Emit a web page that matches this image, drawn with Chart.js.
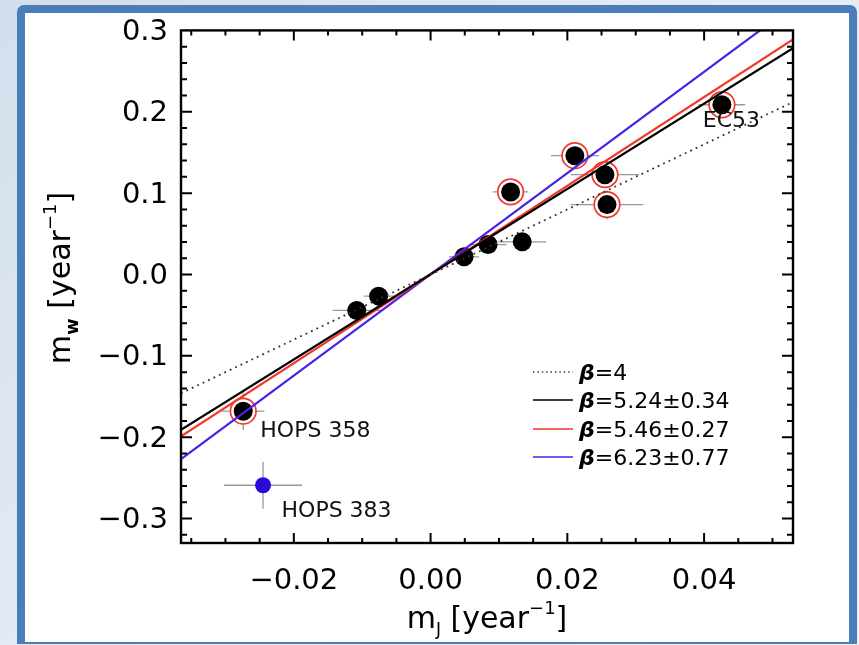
<!DOCTYPE html>
<html><head><meta charset="utf-8">
<script src="https://cdn.jsdelivr.net/npm/chart.js@4/dist/chart.umd.min.js"></script>
<style>
html,body{margin:0;padding:0;width:859px;height:645px;overflow:hidden;
  background:linear-gradient(135deg,#d3deec 0%,#e3eaf4 45%,#eef2f8 100%);}
#frame{position:absolute;left:17px;top:5px;width:824px;height:629px;
  border:8px solid #4a7ebb;border-bottom-width:2px;border-radius:7px 7px 0 0;background:#fff;}
#c{position:absolute;left:0;top:0;}
</style></head>
<body>
<div id="frame"></div>
<canvas id="c" width="859" height="645"></canvas>
<script>
// ---- data ----
const blackX    = [-0.0274, -0.0108, -0.0076, 0.0049, 0.0084, 0.0134, 0.0117, 0.0211, 0.0255, 0.0258, 0.0426];
const blackY    = [-0.168, -0.0442, -0.0266, 0.0217, 0.0368, 0.0401, 0.1015, 0.146, 0.1227, 0.0859, 0.2086];
const blackXErr = [0.0031, 0.0035, 0.0022, 0.0022, 0.0027, 0.0035, 0.0026, 0.0035, 0.0050, 0.0053, 0.0034];
const blackYErr = [0.023, 0.006, 0.005, 0.005, 0.006, 0.006, 0.015, 0.012, 0.010, 0.018, 0.010];
const ringed    = [true, false, false, false, false, false, true, true, true, true, true];

const blueX = [-0.0245], blueY = [-0.259], blueXErr = [0.0057], blueYErr = [0.029];

const fitX = [-0.0365, 0.053];
const fitY_b4   = [-0.146, 0.212];
const fitY_b524 = [-0.191, 0.278];
const fitY_b546 = [-0.199, 0.289];
const fitY_b623 = [-0.227, 0.330];
const fitLabels = ['=4', '=5.24\u00b10.34', '=5.46\u00b10.27', '=6.23\u00b10.77'];

const noteText = ['HOPS 358', 'HOPS 383', 'EC53'];
const noteX    = [-0.0249, -0.0218, 0.0398];
const noteY    = [-0.193, -0.291, 0.188];

const xTicks = [-0.02, 0.00, 0.02, 0.04];
const xTickLabels = ['\u22120.02', '0.00', '0.02', '0.04'];
const yTicks = [-0.3, -0.2, -0.1, 0.0, 0.1, 0.2, 0.3];
const yTickLabels = ['\u22120.3', '\u22120.2', '\u22120.1', '0.0', '0.1', '0.2', '0.3'];

// ---- styles ----
const FONT = "'DejaVu Sans', sans-serif";
const RED = '#f2382a', BLUE = '#4a22e6', DOT_BLUE = '#2a0ad8';
const lineStyles = [
  {color:'#333', width:1.8, dash:[1.8,4.2]},
  {color:'#000', width:2.2, dash:[]},
  {color:RED, width:2.2, dash:[]},
  {color:BLUE, width:2.2, dash:[]}
];
const fitYs = [fitY_b4, fitY_b524, fitY_b546, fitY_b623];

const pts = (xs, ys) => xs.map((x, i) => ({x, y: ys[i]}));

const datasets = [];
fitYs.forEach((fy, i) => datasets.push({
  data: pts(fitX, fy), showLine: true, pointRadius: 0, borderColor: lineStyles[i].color,
  borderWidth: lineStyles[i].width, borderDash: lineStyles[i].dash, order: 0, fill: false
}));
datasets.push({
  data: pts(blackX.filter((_, i) => ringed[i]), blackY.filter((_, i) => ringed[i])),
  pointRadius: 12.8, pointBackgroundColor: '#fff', pointBorderColor: RED, pointBorderWidth: 1.7, order: 3
});
datasets.push({
  data: pts(blackX, blackY), pointRadius: 9.5, pointBackgroundColor: '#000', pointBorderWidth: 0, order: 2
});
datasets.push({
  data: pts(blueX, blueY), pointRadius: 8, pointBackgroundColor: DOT_BLUE, pointBorderWidth: 0, order: 2
});

function drawRich(ctx, parts, x, y, align) {
  let w = 0;
  parts.forEach(p => { ctx.font = (p[3] || '') + ' ' + p[1] + 'px ' + FONT; w += ctx.measureText(p[0]).width; });
  let cx = align === 'center' ? x - w / 2 : x;
  ctx.textBaseline = 'alphabetic'; ctx.textAlign = 'left';
  parts.forEach(p => {
    ctx.font = (p[3] || '') + ' ' + p[1] + 'px ' + FONT;
    ctx.fillText(p[0], cx, y + p[2]);
    cx += ctx.measureText(p[0]).width;
  });
}

const idl = {
  id: 'idl',
  beforeDatasetsDraw(chart) {
    const ctx = chart.ctx, xs = chart.scales.x, ys = chart.scales.y;
    ctx.save();
    ctx.strokeStyle = '#999'; ctx.lineWidth = 1.3;
    const bars = (X, Y, XE, YE) => X.forEach((x, i) => {
      const px = xs.getPixelForValue(x), py = ys.getPixelForValue(Y[i]);
      ctx.beginPath();
      ctx.moveTo(xs.getPixelForValue(x - XE[i]), py); ctx.lineTo(xs.getPixelForValue(x + XE[i]), py);
      ctx.moveTo(px, ys.getPixelForValue(Y[i] - YE[i])); ctx.lineTo(px, ys.getPixelForValue(Y[i] + YE[i]));
      ctx.stroke();
    });
    bars(blackX, blackY, blackXErr, blackYErr);
    bars(blueX, blueY, blueXErr, blueYErr);
    ctx.restore();
  },
  afterDraw(chart) {
    const ctx = chart.ctx, xs = chart.scales.x, ys = chart.scales.y, a = chart.chartArea;
    ctx.save();
    ctx.fillStyle = '#111';
    noteText.forEach((t, i) => {
      ctx.font = '22px ' + FONT; ctx.textAlign = 'left'; ctx.textBaseline = 'middle';
      ctx.fillText(t, xs.getPixelForValue(noteX[i]), ys.getPixelForValue(noteY[i]));
    });
    ctx.strokeStyle = '#000'; ctx.lineWidth = 2.4;
    ctx.strokeRect(a.left, a.top, a.right - a.left, a.bottom - a.top);
    ctx.lineWidth = 2;
    ctx.beginPath();
    for (let k = -7; k <= 10; k++) {
      const px = xs.getPixelForValue(k * 0.005);
      if (px <= a.left + 1 || px >= a.right - 1) continue;
      const L = (k % 4 === 0) ? 10 : 5;
      ctx.moveTo(px, a.bottom); ctx.lineTo(px, a.bottom - L);
      ctx.moveTo(px, a.top); ctx.lineTo(px, a.top + L);
    }
    for (let k = -16; k <= 15; k++) {
      const py = ys.getPixelForValue(k * 0.02);
      if (py <= a.top + 1 || py >= a.bottom - 1) continue;
      const L = (k % 5 === 0) ? 11 : 6;
      ctx.moveTo(a.left, py); ctx.lineTo(a.left + L, py);
      ctx.moveTo(a.right, py); ctx.lineTo(a.right - L, py);
    }
    ctx.stroke();
    const rows = [372, 400, 429, 457];
    rows.forEach((ry, i) => {
      const s = lineStyles[i];
      ctx.beginPath(); ctx.strokeStyle = s.color; ctx.lineWidth = i === 0 ? 1.4 : 1.6;
      ctx.setLineDash(i === 0 ? [1.4, 3] : []);
      ctx.moveTo(533, ry); ctx.lineTo(573, ry); ctx.stroke();
      ctx.setLineDash([]);
      ctx.fillStyle = '#000';
      drawRich(ctx, [['\u03b2', 22, 0, 'italic bold'], [fitLabels[i], 22, 0, '']], 579, ry + 8, 'left');
    });
    ctx.fillStyle = '#000';
    drawRich(ctx, [['m', 30, 0], ['J', 17, 7], [' [year', 30, 0], ['\u22121', 18, -14], [']', 30, 0]], 487, 628, 'center');
    ctx.save();
    ctx.translate(70, 278); ctx.rotate(-Math.PI / 2);
    drawRich(ctx, [['m', 30, 0], ['w', 18, 8, 'bold'], [' [year', 30, 0], ['\u22121', 18, -14], [']', 30, 0]], 0, 0, 'center');
    ctx.restore();
    ctx.restore();
  }
};

new Chart(document.getElementById('c'), {
  type: 'scatter',
  data: { datasets },
  plugins: [idl],
  options: {
    responsive: false, animation: false, devicePixelRatio: 1,
    layout: { padding: { top: 30, right: 66, left: 0, bottom: 0 } },
    plugins: { legend: { display: false }, tooltip: { enabled: false } },
    scales: {
      x: {
        type: 'linear', min: -0.0365, max: 0.053,
        afterBuildTicks: s => { s.ticks = xTicks.map(v => ({ value: v })); },
        afterFit: s => { s.height = 102; },
        grid: { display: false, drawTicks: false }, border: { display: false },
        ticks: { font: { family: FONT, size: 29 }, color: '#000', padding: 21, maxRotation: 0,
          callback: (v, i) => xTickLabels[i] }
      },
      y: {
        type: 'linear', min: -0.33, max: 0.3,
        afterBuildTicks: s => { s.ticks = yTicks.map(v => ({ value: v })); },
        afterFit: s => { s.width = 181; },
        grid: { display: false, drawTicks: false }, border: { display: false },
        ticks: { font: { family: FONT, size: 29 }, color: '#000', padding: 13, labelOffset: 2,
          callback: (v, i) => yTickLabels[i] }
      }
    }
  }
});
</script>
</body></html>
